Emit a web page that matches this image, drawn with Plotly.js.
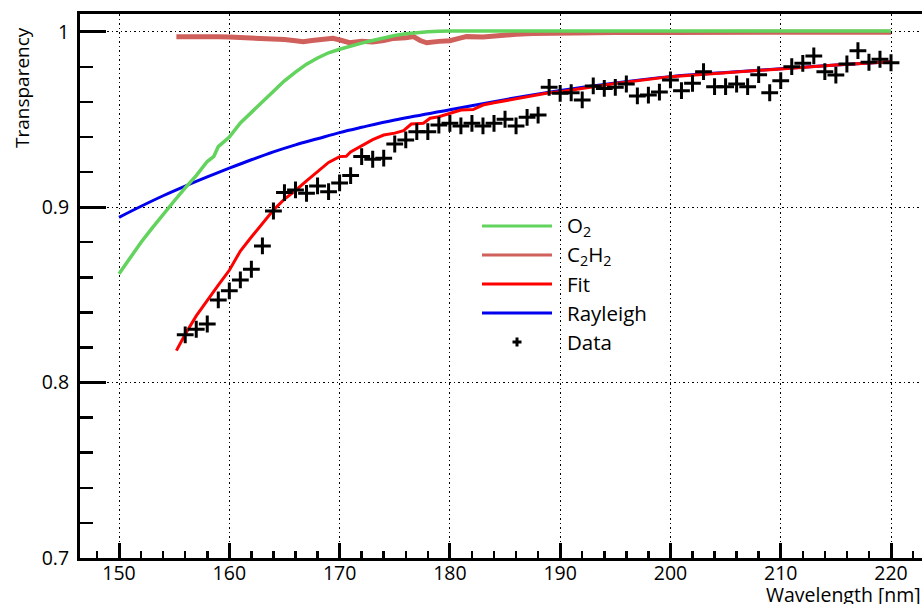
<!DOCTYPE html>
<html>
<head>
<meta charset="utf-8">
<script src="https://cdn.plot.ly/plotly-3.0.1.min.js"></script>
<style>html,body{margin:0;padding:0;background:#fff;}#chart{width:922px;height:604px;}</style>
</head>
<body>
<div id="chart"></div>
<script>
// ---- Data ----
const dataWl = [156,157,158,159,160,161,162,163,164,165,166,167,168,169,170,171,172,173,174,175,176,177,178,179,180,181,182,183,184,185,186,187,188,189,190,191,192,193,194,195,196,197,198,199,200,201,202,203,204,205,206,207,208,209,210,211,212,213,214,215,216,217,218,219,220];
const dataT = [0.8272,0.8304,0.8334,0.8471,0.8523,0.8585,0.8646,0.8779,0.8978,0.9083,0.9098,0.9079,0.9121,0.9088,0.9138,0.9180,0.9288,0.9273,0.9279,0.9360,0.9383,0.9430,0.9430,0.9468,0.9478,0.9463,0.9478,0.9463,0.9478,0.9501,0.9463,0.9512,0.9525,0.9683,0.9649,0.9652,0.9611,0.9691,0.9677,0.9683,0.9702,0.9634,0.9639,0.9656,0.9725,0.9664,0.9706,0.9772,0.9687,0.9687,0.9702,0.9687,0.9755,0.9652,0.9721,0.9801,0.9820,0.9862,0.9772,0.9753,0.9816,0.9892,0.9826,0.9843,0.9823];

const fitWl = [155.2,156,157,158,159,160,161,162,163,164,165,166,167,168,169,170,170.6,171,172,173,174,175,175.8,176.5,177.6,178.2,179,180,181,182.1,183,184,185,186,187,188,189,190,192,195,200,205,210,215,220];
const fitT = [0.8182,0.8275,0.8380,0.8470,0.8555,0.8640,0.8750,0.8830,0.8905,0.8984,0.9046,0.9095,0.9150,0.9205,0.9255,0.9288,0.9290,0.9315,0.9352,0.9385,0.9411,0.9422,0.9436,0.9474,0.9478,0.9507,0.9515,0.9535,0.9554,0.9556,0.9582,0.9595,0.9607,0.9620,0.9630,0.9642,0.9652,0.9658,0.9677,0.9705,0.9744,0.9768,0.9788,0.9810,0.9829];

const rayWl = [150,152,154,156,158,160,162,164,166,168,170,172,175,180,185,190,195,200,205,210,215,220];
const rayT = [0.8942,0.9005,0.9065,0.9120,0.9172,0.9222,0.9270,0.9315,0.9355,0.9390,0.9425,0.9455,0.9497,0.9555,0.9613,0.9665,0.9708,0.9744,0.9768,0.9789,0.9810,0.9829];

const o2Wl = [150,151,152,153,154,155,156,157,158,158.6,159,160,161,162,163,164,165,166,167,168,169,170,171,172,173,174,175,176,177,178,179,180,190,200,210,220];
const o2T = [0.8620,0.8710,0.8800,0.8880,0.8960,0.9035,0.9110,0.9180,0.9260,0.9290,0.9345,0.9400,0.9480,0.9540,0.9600,0.9665,0.9720,0.9770,0.9815,0.9850,0.9880,0.9900,0.9920,0.9935,0.9950,0.9965,0.9978,0.9988,0.9995,1.0000,1.0003,1.0004,1.0004,1.0004,1.0004,1.0004];

const c2h2Wl = [155.2,157,159,160,161,162,163,164,165,166,166.7,167.5,168.5,169.4,170.2,170.9,172,173,174,174.9,176,176.7,177.3,177.9,179,180,181,181.5,183,184.5,186,187.5,190,195,200,210,220];
const c2h2T = [0.9972,0.9975,0.9972,0.9970,0.9968,0.9962,0.9958,0.9960,0.9955,0.9948,0.9943,0.9950,0.9958,0.9962,0.9950,0.9937,0.9945,0.9941,0.9950,0.9962,0.9965,0.9972,0.9950,0.9937,0.9945,0.9949,0.9965,0.9972,0.9970,0.9980,0.9985,0.9990,0.9993,0.9995,0.9996,0.9997,0.9997];

const legendNames = ['O<sub>2</sub>','C<sub>2</sub>H<sub>2</sub>','Fit','Rayleigh','Data'];
const xTitle = 'Wavelength [nm]';
const yTitle = 'Transparency';

// ---- Styles ----
const COL_O2 = '#62d35c', COL_C2H2 = '#d0605b', COL_FIT = '#ff0000', COL_RAY = '#0000ee';
const FONT = '"Open Sans", "DejaVu Sans", sans-serif';

const traces = [
  {x: rayWl, y: rayT, mode:'lines', line:{color:COL_RAY, width:3, shape:'spline'}, showlegend:false},
  {x: c2h2Wl, y: c2h2T, mode:'lines', line:{color:COL_C2H2, width:5}, showlegend:false},
  {x: o2Wl, y: o2T, mode:'lines', line:{color:COL_O2, width:3.5}, showlegend:false},
  {x: fitWl, y: fitT, mode:'lines', line:{color:COL_FIT, width:3}, showlegend:false},
  {x: dataWl, y: dataT, mode:'markers', marker:{symbol:'cross-thin', size:12, color:'#000', line:{color:'#000', width:3}}, showlegend:false}
];

// plot-area pixel helpers for legend placement (paper coords)
const L = 80, R = 0, T = 14, B = 46, W = 922, H = 604;
const pw = W - L - R, ph = H - T - B;
const px = v => (v - L) / pw;
const py = v => (H - B - v) / ph;

const legendColors = [COL_O2, COL_C2H2, COL_FIT, COL_RAY];
const rowY = [226, 255, 284, 313, 342];
const shapes = [];
const annotations = [];
legendColors.forEach((c, i) => {
  shapes.push({type:'line', xref:'paper', yref:'paper', x0:px(482), x1:px(552), y0:py(rowY[i]), y1:py(rowY[i]), line:{color:c, width:3}});
});
// Data legend plus
shapes.push({type:'line', xref:'paper', yref:'paper', x0:px(512.5), x1:px(521.5), y0:py(rowY[4]), y1:py(rowY[4]), line:{color:'#000', width:3}});
shapes.push({type:'line', xref:'paper', yref:'paper', x0:px(517), x1:px(517), y0:py(rowY[4]-4.5), y1:py(rowY[4]+4.5), line:{color:'#000', width:3}});
legendNames.forEach((n, i) => {
  annotations.push({xref:'paper', yref:'paper', x:px(565), y:py(rowY[i]), xanchor:'left', yanchor:'middle', text:n, showarrow:false, font:{family:FONT, size:20.5, color:'#000'}});
});
annotations.push({xref:'paper', yref:'paper', x:px(764), y:py(594), xanchor:'left', yanchor:'middle', text:xTitle, showarrow:false, font:{family:FONT, size:19.5, color:'#000'}});
annotations.push({xref:'paper', yref:'paper', x:px(22), y:py(88), xanchor:'center', yanchor:'middle', textangle:-90, text:yTitle, showarrow:false, font:{family:FONT, size:19, color:'#000'}});

const layout = {
  width: W, height: H,
  margin: {l:L, r:R, t:T, b:B, pad:0},
  paper_bgcolor:'#fff', plot_bgcolor:'#fff',
  showlegend:false,
  font:{family:FONT, size:18, color:'#000'},
  xaxis: {
    range:[146.46, 222.81], tick0:150, dtick:10,
    ticks:'inside', ticklen:15, tickwidth:3, tickcolor:'#000',
    minor:{ticks:'inside', dtick:2, tick0:150, ticklen:7, tickwidth:2.5, tickcolor:'#000', showgrid:false},
    showline:true, linewidth:3, linecolor:'#000', mirror:true,
    showgrid:true, gridcolor:'#000', gridwidth:1, griddash:'1.5px,3px',
    zeroline:false, tickfont:{family:FONT, size:19.5}, ticklabelstandoff:-4
  },
  yaxis: {
    range:[0.7, 1.0101], tick0:0.7, dtick:0.1,
    ticks:'inside', ticklen:26, tickwidth:3, tickcolor:'#000',
    minor:{ticks:'inside', dtick:0.02, tick0:0.7, ticklen:13, tickwidth:2.5, tickcolor:'#000', showgrid:false},
    showline:true, linewidth:3, linecolor:'#000', mirror:false,
    showgrid:true, gridcolor:'#000', gridwidth:1, griddash:'1.5px,3px',
    zeroline:false, tickfont:{family:FONT, size:19.5}, ticklabelstandoff:4
  },
  shapes: shapes,
  annotations: annotations
};

Plotly.newPlot('chart', traces, layout, {displayModeBar:false, staticPlot:true});
</script>
</body>
</html>
